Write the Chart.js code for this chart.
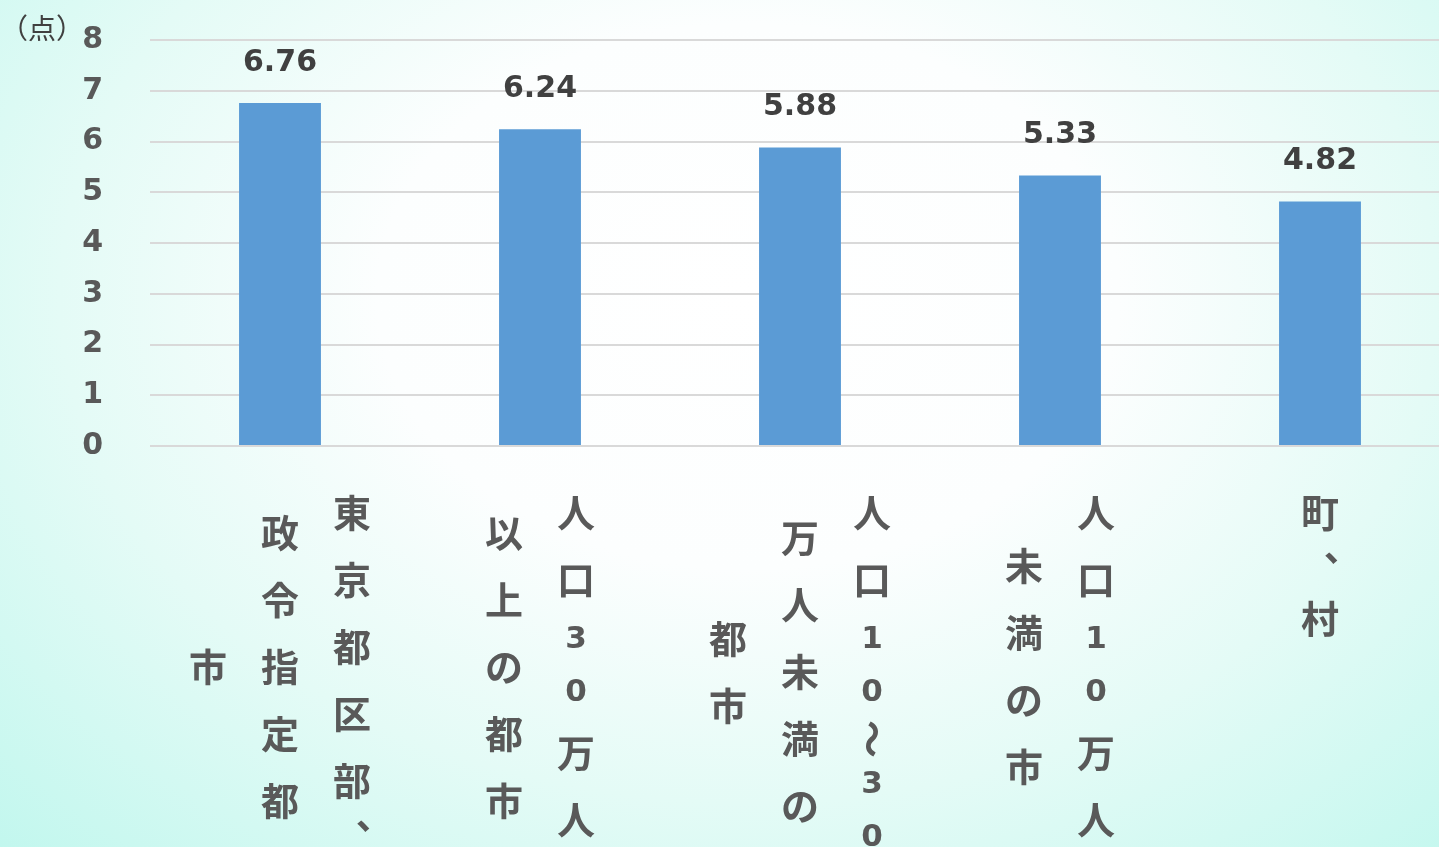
<!DOCTYPE html>
<html>
<head>
<meta charset="utf-8">
<script src="https://cdn.jsdelivr.net/npm/chart.js@4/dist/chart.umd.min.js"></script>
<style>
  html, body { margin: 0; padding: 0; width: 1439px; height: 847px; overflow: hidden; }
  body {
    background: radial-gradient(ellipse farthest-corner at 52% 35%,
      #ffffff 0%, #fcfefe 35%, #e4fbf6 65%, #c2f7ee 100%);
  }
  #wrap { position: relative; width: 1450px; height: 847px; }
</style>
</head>
<body>
<div id="wrap"><canvas id="chart"></canvas></div>
<script>
  /* global Chart */

  // category labels, one string per vertical column (right to left)
  var categories = [
    ['東京都区部、', '政令指定都', '市'],
    ['人口30万人', '以上の都市'],
    ['人口10～30', '万人未満の', '都市'],
    ['人口10万人', '未満の市'],
    ['町、村']
  ];
  var scores = [6.76, 6.24, 5.88, 5.33, 4.82];
  var yMin = 0;
  var yMax = 8;
  var yStep = 1;
  var unitLabel = '（点）';

  var barColor = '#5b9bd5';
  var gridColor = '#d9d9d9';
  var tickColor = '#595959';
  var valueColor = '#404040';
  var numFont = '"DejaVu Sans", Verdana, sans-serif';
  var jpFont = '"Noto Sans CJK JP", "Noto Sans", sans-serif';

  // vertical (tategaki) category labels under the axis
  var verticalLabels = {
    id: 'verticalLabels',
    afterDraw: function (chart) {
      var ctx = chart.ctx;
      var xs = chart.scales.x;
      var area = chart.chartArea;
      var em = 38, gap = 29, colGap = 72;

      function cellH(ch) {
        if (/[0-9]/.test(ch)) return 24;
        if (ch === '～') return 10;
        if (ch === '、') return 10;
        return em;
      }
      function colHeight(col) {
        var chars = Array.from(col);
        return chars.reduce(function (s, ch) { return s + cellH(ch); }, 0) + gap * (chars.length - 1);
      }
      function drawChar(ch, x, y) {
        if (/[0-9]/.test(ch)) {
          ctx.font = 'bold 31px ' + numFont;
          ctx.fillText(ch, x, y);
        } else if (ch === '～') {
          ctx.save();
          ctx.translate(x, y);
          ctx.rotate(Math.PI / 2);
          ctx.font = 'bold ' + em + 'px ' + jpFont;
          ctx.fillText(ch, 0, 0);
          ctx.restore();
        } else if (ch === '、') {
          ctx.font = 'bold ' + em + 'px ' + jpFont;
          ctx.fillText('︑', x, y + 4);
        } else {
          ctx.font = 'bold ' + em + 'px ' + jpFont;
          ctx.fillText(ch, x, y);
        }
      }

      ctx.save();
      ctx.fillStyle = tickColor;
      ctx.textAlign = 'center';
      ctx.textBaseline = 'middle';
      chart.data.labels.forEach(function (cols, i) {
        var cx = xs.getPixelForTick(i);
        var heights = cols.map(colHeight);
        var maxH = Math.max.apply(null, heights);
        var top = area.bottom + 48;
        cols.forEach(function (col, j) {
          var x = cx + ((cols.length - 1) / 2 - j) * colGap;
          var y = top + (maxH - heights[j]) / 2;
          Array.from(col).forEach(function (ch) {
            var h = cellH(ch);
            drawChar(ch, x, y + h / 2);
            y += h + gap;
          });
        });
      });

      // unit label at the top-left
      ctx.font = '28px ' + jpFont;
      ctx.fillStyle = valueColor;
      ctx.textAlign = 'left';
      ctx.fillText(unitLabel, 0, area.top - 12);
      ctx.restore();
    }
  };

  // value labels above each bar
  var valueLabels = {
    id: 'valueLabels',
    afterDatasetsDraw: function (chart) {
      var ctx = chart.ctx;
      var meta = chart.getDatasetMeta(0);
      ctx.save();
      ctx.font = 'bold 30px ' + numFont;
      ctx.fillStyle = valueColor;
      ctx.textAlign = 'center';
      ctx.textBaseline = 'middle';
      meta.data.forEach(function (bar, i) {
        ctx.fillText(scores[i].toFixed(2), bar.x, bar.y - 40);
      });
      ctx.restore();
    }
  };

  new Chart(document.getElementById('chart'), {
    type: 'bar',
    data: {
      labels: categories,
      datasets: [{
        data: scores,
        backgroundColor: barColor,
        borderWidth: 0,
        barPercentage: 0.315,
        categoryPercentage: 1,
      }],
    },
    options: {
      responsive: true,
      maintainAspectRatio: false,
      animation: false,
      layout: { padding: { top: 40, left: 0, right: 0, bottom: 0 } },
      plugins: { legend: { display: false }, tooltip: { enabled: false } },
      scales: {
        x: {
          ticks: { display: false },
          grid: { display: false },
          border: { display: false },
          afterFit: function (scale) { scale.height = 401; },
        },
        y: {
          min: yMin,
          max: yMax,
          ticks: {
            stepSize: yStep,
            color: tickColor,
            font: { family: numFont, size: 30, weight: 'bold' },
            padding: 0,
          },
          grid: {
            color: gridColor,
            lineWidth: 2,
            drawTicks: true,
            tickLength: 47,
            tickColor: 'rgba(0,0,0,0)',
          },
          border: { display: false },
          afterFit: function (scale) { scale.width = 150; },
        },
      },
    },
    plugins: [valueLabels, verticalLabels],
  });
</script>
</body>
</html>
